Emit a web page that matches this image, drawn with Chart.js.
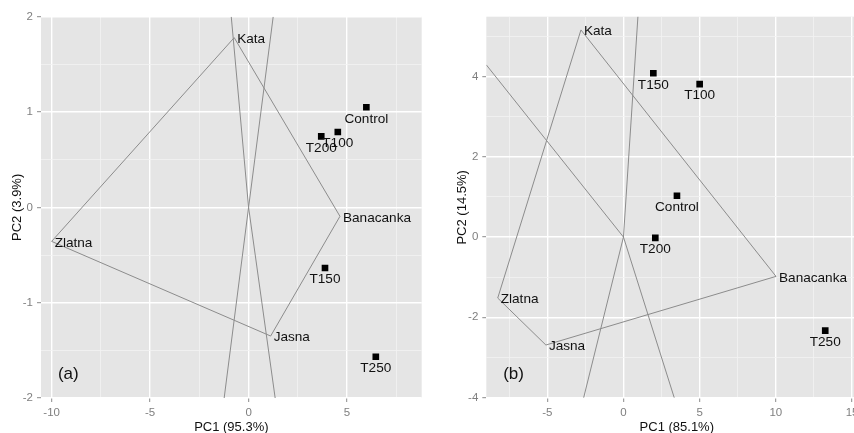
<!DOCTYPE html>
<html><head><meta charset="utf-8">
<script src="https://cdn.jsdelivr.net/npm/chart.js@4.4.1/dist/chart.umd.min.js"></script>
<style>
html,body{margin:0;padding:0;background:#fff;overflow:hidden;width:854px;height:433px}
#wrap{position:relative;width:854px;height:433px;overflow:hidden}
#ca{position:absolute;left:0;top:0}
#cb{position:absolute;left:427px;top:0}
</style></head>
<body><div id="wrap"><canvas id="ca" width="427" height="433"></canvas><canvas id="cb" width="445" height="433"></canvas></div>
<script>
const FONT = "'Liberation Sans', Arial, sans-serif";

// names
const genotypes = ['Kata', 'Banacanka', 'Jasna', 'Zlatna'];
const treatments = ['Control', 'T100', 'T200', 'T150', 'T250'];

// Panel (a)
const genoA_x = [-0.73, 4.64, 1.12, -10.0];
const genoA_y = [1.78, -0.094, -1.35, -0.357];
const treatA_x = [5.98, 4.53, 3.69, 3.88, 6.46];
const treatA_y = [1.05, 0.79, 0.745, -0.636, -1.567];
const rayA_x = [-0.88, 1.25, -1.24, 1.35];
const rayA_y = [2, 2, -2, -2];
const xMajorA = [-10, -5, 0, 5];
const xMinorA = [-7.5, -2.5, 2.5, 7.5];
const yMajorA = [-2, -1, 0, 1, 2];
const yMinorA = [-1.5, -0.5, 0.5, 1.5];

// Panel (b)
const genoB_x = [-2.79, 10.01, -5.09, -8.25];
const genoB_y = [5.16, -0.98, -2.69, -1.52];
const treatB_x = [3.51, 5.0, 2.09, 1.96, 13.24];
const treatB_y = [1.03, 3.81, -0.02, 4.08, -2.33];
const rayB_x = [0.95, -2.61, -9.0, 3.33];
const rayB_y = [5.5, -4, 4.29, -4];
const xMajorB = [-5, 0, 5, 10, 15];
const xMinorB = [-7.5, -2.5, 2.5, 7.5, 12.5];
const yMajorB = [-4, -2, 0, 2, 4];
const yMinorB = [-3, -1, 1, 3, 5];

const bgPlugin = {
  id: 'panelBg',
  beforeDraw(chart) {
    const {ctx, chartArea: a} = chart;
    ctx.save();
    ctx.fillStyle = '#e5e5e5';
    ctx.fillRect(a.left, a.top, a.right - a.left, a.bottom - a.top);
    ctx.restore();
  }
};

const labelPlugin = {
  id: 'ptLabels',
  afterDatasetsDraw(chart, args, opts) {
    const ctx = chart.ctx;
    ctx.save();
    ctx.fillStyle = '#111';
    ctx.textBaseline = 'middle';
    ctx.font = '13.6px ' + FONT;
    for (const s of opts.sets) {
      const meta = chart.getDatasetMeta(s.ds);
      s.texts.forEach((t, i) => {
        const el = meta.data[i];
        ctx.textAlign = s.align;
        ctx.fillText(t, el.x + s.dx, el.y + s.dy);
      });
    }
    const ca = chart.chartArea;
    ctx.font = '17px ' + FONT;
    ctx.textAlign = 'center';
    ctx.fillText(opts.tag, ca.left + 27.3, ca.bottom - 23.3);
    ctx.restore();
  }
};

function axis(isX, min, max, majors, minors, title, fitSize, titlePad) {
  const isMaj = c => c.tick && majors.includes(c.tick.value);
  return {
    type: 'linear', position: isX ? 'bottom' : 'left', min, max,
    afterBuildTicks: s => { s.ticks = majors.concat(minors).sort((a, b) => a - b).map(v => ({value: v})); },
    afterFit: s => { if (isX) s.height = fitSize; else s.width = fitSize; },
    ticks: {
      autoSkip: false, maxRotation: 0, minRotation: 0, padding: 4, color: '#7f7f7f',
      font: {family: FONT, size: 11.5},
      callback: v => majors.includes(v) ? String(v) : ''
    },
    grid: {
      color: c => isMaj(c) ? '#ffffff' : '#f2f2f2',
      lineWidth: c => isMaj(c) ? 1.4 : 0.8,
      tickColor: c => isMaj(c) ? '#8a8a8a' : 'rgba(0,0,0,0)',
      tickLength: 4, tickWidth: 1, drawTicks: true
    },
    border: {display: false},
    title: {display: true, text: title, color: '#111', font: {family: FONT, size: 13, lineHeight: 0.8}, padding: titlePad}
  };
}

function pts(xs, ys) { return xs.map((x, i) => ({x, y: ys[i]})); }

function build(id, d) {
  const lineStyle = {showLine: true, borderColor: '#8c8c8c', borderWidth: 1, pointRadius: 0, fill: false};
  const poly = pts(d.gx, d.gy); poly.push({x: d.gx[0], y: d.gy[0]});
  const datasets = [Object.assign({data: poly}, lineStyle)];
  d.rx.forEach((rx, i) => datasets.push(Object.assign({data: [{x: 0, y: 0}, {x: rx, y: d.ry[i]}]}, lineStyle)));
  datasets.push({data: pts(d.tx, d.ty), pointStyle: 'rect', pointRadius: 4.7, backgroundColor: '#000', borderWidth: 0, showLine: false});
  const treatIdx = datasets.length - 1;
  new Chart(document.getElementById(id), {
    type: 'scatter',
    data: {datasets},
    options: {
      responsive: false, animation: false, devicePixelRatio: 1,
      layout: {padding: {top: 16.7, right: d.padRight, left: 0, bottom: 0}},
      plugins: {
        legend: {display: false}, tooltip: {enabled: false},
        ptLabels: {
          tag: d.tag,
          sets: [
            {ds: 0, texts: genotypes, align: 'left', dx: 3, dy: 1.5},
            {ds: treatIdx, texts: treatments, align: 'center', dx: 0, dy: 11.5}
          ]
        }
      },
      scales: {
        x: axis(true, d.xmin, d.xmax, d.xMaj, d.xMin, d.xTitle, 35, {top: 0, bottom: 0.5}),
        y: axis(false, d.ymin, d.ymax, d.yMaj, d.yMin, d.yTitle, d.yWidth, {top: d.yTitlePad, bottom: 0})
      }
    },
    plugins: [bgPlugin, labelPlugin]
  });
}

build('ca', {
  gx: genoA_x, gy: genoA_y, tx: treatA_x, ty: treatA_y, rx: rayA_x, ry: rayA_y,
  xmin: -10.54, xmax: 8.79, ymin: -2, ymax: 2,
  xMaj: xMajorA, xMin: xMinorA, yMaj: yMajorA, yMin: yMinorA,
  xTitle: 'PC1 (95.3%)', yTitle: 'PC2 (3.9%)', yWidth: 41, yTitlePad: 11.8, padRight: 5.3, tag: '(a)'
});
build('cb', {
  gx: genoB_x, gy: genoB_y, tx: treatB_x, ty: treatB_y, rx: rayB_x, ry: rayB_y,
  xmin: -9, xmax: 16, ymin: -4.01, ymax: 5.49,
  xMaj: xMajorB, xMin: xMinorB, yMaj: yMajorB, yMin: yMinorB,
  xTitle: 'PC1 (85.1%)', yTitle: 'PC2 (14.5%)', yWidth: 59.3, yTitlePad: 29.8, padRight: 4, tag: '(b)'
});
</script>
</body></html>
